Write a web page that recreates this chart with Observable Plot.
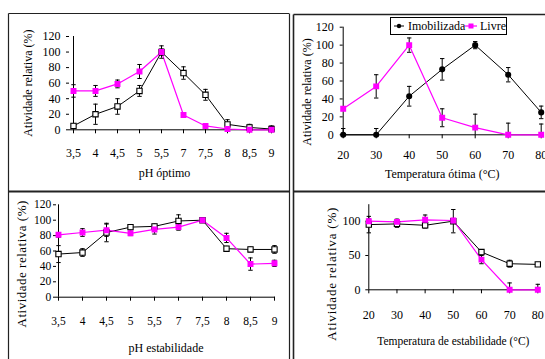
<!DOCTYPE html>
<html><head><meta charset="utf-8">
<script src="https://cdn.jsdelivr.net/npm/d3@7"></script>
<script src="https://cdn.jsdelivr.net/npm/@observablehq/plot@0.6"></script>
<style>
body{margin:0;background:#fff;}
#wrap{position:relative;width:545px;height:359px;overflow:hidden;font-family:"Liberation Serif",serif;background:#fff;}
#wrap > svg{position:absolute;left:0;top:0;}
#wrap svg text{font-family:"Liberation Serif",serif;}
#legend{position:absolute;left:390px;top:16.5px;width:115px;height:16px;border:1px solid #000;background:#fff;font:12px "Liberation Serif",serif;}
</style></head><body><div id="wrap"></div>
<script>
// ---- data ----
const phCats = ["3,5","4","4,5","5","5,5","7","7,5","8","8,5","9"];
const tempVals = [20,30,40,50,60,70,80];

const phOptImob     = [5, 20, 30, 50, 100, 73, 45, 7, 3, 1];
const phOptImobErr  = [3, 13, 10, 7, 8, 8, 7, 6, 4, 4];
const phOptLivre    = [50, 50, 59, 75, 100, 19, 5, 1, 0, 0];
const phOptLivreErr = [8, 7, 5, 9, 4, 2, 2, 1, 1, 1];

const tOptImob     = [0, 0, 43, 73, 100, 67, 25];
const tOptImobErr  = [7, 7, 11, 12, 4, 8, 7];
const tOptLivre    = [29, 54, 100, 19, 8, 0, 0];
const tOptLivreErr = [2, 13, 8, 10, 15, 13, 12];

const phEstImob     = [56, 58, 84, 91, 92, 99, 100, 63, 62, 62];
const phEstImobErr  = [11, 5, 12, 3, 3, 8, 3, 3, 3, 5];
const phEstLivre    = [81, 84, 87, 83, 88, 91, 100, 77, 43, 44];
const phEstLivreErr = [3, 5, 8, 3, 6, 4, 2, 6, 8, 4];

const tEstImob     = [95, 96, 94, 100, 55, 38, 37];
const tEstImobErr  = [12, 5, 4, 17, 3, 5, 2];
const tEstLivre    = [100, 99, 102, 101, 44, 0, 0];
const tEstLivreErr = [3, 4, 7, 3, 6, 10, 8];

const yTicks120 = [0,20,40,60,80,100,120];
const yTicks100 = [0,50,100];
const seriesNames = ["Imobilizada","Livre"];
const yTitle = "Atividade relativa (%)";

// ---- drawing ----
const W = 545, H = 359;
const MAG = "#ff00ff";
const capSymbol = {draw(ctx, size){const r = Math.sqrt(size/Math.PI); ctx.moveTo(-r,0); ctx.lineTo(r,0);}};
const wrap = document.getElementById("wrap");

function rowsFor(xs, vals, errs){
  return xs.map((x,i)=>({x, y: vals[i], lo: Math.max(0, vals[i]-errs[i]), hi: vals[i]+errs[i], showLo: vals[i]-errs[i] > 0}));
}

function panel(p){
  const xs = p.cats || p.xVals;
  const imob = rowsFor(xs, p.imob, p.imobErr);
  const livre = rowsFor(xs, p.livre, p.livreErr);
  const errMarks = (rows, color) => [
    Plot.ruleX(rows, {x:"x", y1:"lo", y2:"hi", stroke: color, strokeWidth: 1}),
    Plot.dot(rows, {x:"x", y:"hi", symbol: capSymbol, r: 2.2, stroke: color, strokeWidth: 1}),
    Plot.dot(rows.filter(d=>d.showLo), {x:"x", y:"lo", symbol: capSymbol, r: 2.2, stroke: color, strokeWidth: 1})
  ];
  const xScale = p.cats
    ? {type:"point", domain: p.cats, padding: 0, tickSize: 4, tickPadding: p.xTickPad, label: null}
    : {type:"linear", domain: p.xDomain, ticks: p.xVals, tickSize: 4, tickPadding: p.xTickPad, label: null};
  const svg = Plot.plot({
    width: W, height: H,
    marginLeft: p.ml, marginRight: p.mr, marginTop: p.mt, marginBottom: p.mb,
    x: xScale,
    y: {domain: p.yDomain, ticks: p.yTicks, tickSize: 3, tickPadding: p.yTickPad, label: null},
    style: `background:transparent;font-family:"Liberation Serif",serif;font-size:${p.fontSize}px;color:#000;overflow:visible;`,
    marks: [
      Plot.ruleY([p.yDomain[0]], {stroke: "#000"}),
      Plot.ruleX([xs[0]], {y1: p.yDomain[0], y2: p.yDomain[1], stroke: "#000"}),
      Plot.line(imob, {x:"x", y:"y", stroke:"#000", strokeWidth: 1}),
      Plot.line(livre, {x:"x", y:"y", stroke: MAG, strokeWidth: 1.2}),
      ...errMarks(imob, "#000"),
      ...errMarks(livre, "#000"),
      p.imobCircle
        ? Plot.dot(imob, {x:"x", y:"y", r: 2.3, fill:"#000", stroke:"#000"})
        : Plot.dot(imob, {x:"x", y:"y", symbol:"square", r: 3, fill:"#fff", stroke:"#000", strokeWidth: 1.1}),
      Plot.dot(livre, {x:"x", y:"y", symbol:"square", r: 2.5, fill: MAG, stroke: MAG}),
      Plot.text([p.xTitle], {text: d=>d, frameAnchor: "bottom", dx: p.xTitleDx, dy: p.xTitleDy, lineAnchor: "middle", fontSize: p.xTitleSize}),
      Plot.text([yTitle], {text: d=>d, frameAnchor: "left", rotate: -90, dx: p.yTitleDx, dy: p.yTitleDy, lineAnchor: "middle", textAnchor: "middle", fontSize: p.yTitleSize})
    ]
  });
  if (p.letterSpacing) {
    d3.select(svg).selectAll("text").filter(function(){ return this.textContent === yTitle; }).attr("letter-spacing", p.letterSpacing);
  }
  wrap.appendChild(svg);
}

// top-left: pH óptimo
panel({cats: phCats, imob: phOptImob, imobErr: phOptImobErr, livre: phOptLivre, livreErr: phOptLivreErr,
  ml: 69, mr: W-275, mt: 36, mb: H-129.3, yDomain: [0,120], yTicks: yTicks120, fontSize: 12,
  xTickPad: 14.4, yTickPad: 6, xTitle: "pH óptimo", xTitleDx: -8, xTitleDy: 43.7, xTitleSize: 12,
  yTitleDx: -41, yTitleDy: 0, yTitleSize: 12});

// top-right: Temperatura ótima
panel({xVals: tempVals, xDomain: [20,80], imob: tOptImob, imobErr: tOptImobErr, livre: tOptLivre, livreErr: tOptLivreErr,
  ml: 342.7, mr: W-540.7, mt: 26.7, mb: H-134.3, yDomain: [0,120], yTicks: yTicks120, fontSize: 12, imobCircle: true,
  xTickPad: 11.5, yTickPad: 6.4, xTitle: "Temperatura ótima (°C)", xTitleDx: 0, xTitleDy: 39, xTitleSize: 12,
  yTitleDx: -36, yTitleDy: 11, yTitleSize: 12});

// bottom-left: pH estabilidade
panel({cats: phCats, imob: phEstImob, imobErr: phEstImobErr, livre: phEstLivre, livreErr: phEstLivreErr,
  ml: 56, mr: W-275, mt: 204.3, mb: H-296.7, yDomain: [0,120], yTicks: yTicks120, fontSize: 11.5,
  xTickPad: 15.3, yTickPad: 2.3, xTitle: "pH estabilidade", xTitleDx: 0, xTitleDy: 51, xTitleSize: 12,
  yTitleDx: -34.3, yTitleDy: 12.8, yTitleSize: 13, letterSpacing: "0.5px"});

// bottom-right: Temperatura de estabilidade
panel({xVals: tempVals, xDomain: [20,80], imob: tEstImob, imobErr: tEstImobErr, livre: tEstLivre, livreErr: tEstLivreErr,
  ml: 368.3, mr: W-537.3, mt: 204.2, mb: H-289.3, yDomain: [0,124], yTicks: yTicks100, fontSize: 12,
  xTickPad: 16.8, yTickPad: 5.3, xTitle: "Temperatura de estabilidade (°C)", xTitleDx: 0, xTitleDy: 51.4, xTitleSize: 11.5,
  yTitleDx: -36.6, yTitleDy: 26.5, yTitleSize: 13, letterSpacing: "0.8px"});

// panel borders
const ns = "http://www.w3.org/2000/svg";
const frame = document.createElementNS(ns, "svg");
frame.setAttribute("width", W); frame.setAttribute("height", H);
[[8.5,13.5,289,13.5,1.2],[293.5,14.5,545,14.5,1.6],[8.5,13.5,8.5,359,1.2],[289.5,13.5,289.5,359,1.2],[293.5,14.5,293.5,359,1.6],
 [8.5,191.5,289.5,191.5,2],[293.5,191.5,545,191.5,2.2]].forEach(([x1,y1,x2,y2,w])=>{
  const l = document.createElementNS(ns, "line");
  l.setAttribute("x1",x1); l.setAttribute("y1",y1); l.setAttribute("x2",x2); l.setAttribute("y2",y2);
  l.setAttribute("stroke","#222"); l.setAttribute("stroke-width", w);
  frame.appendChild(l);
});
wrap.appendChild(frame);

// legend
const legend = document.createElement("div");
legend.id = "legend";
legend.innerHTML = `<svg width="115" height="16" style="position:absolute;left:0;top:0">
  <line x1="3" y1="8" x2="13" y2="8" stroke="#000"/><circle cx="8" cy="8" r="2.2" fill="#000"/>
  <text x="17" y="12" font-size="12" font-family="Liberation Serif">${seriesNames[0]}</text>
  <line x1="74" y1="8" x2="86" y2="8" stroke="${MAG}" stroke-width="1.2"/><rect x="77.5" y="5.5" width="5" height="5" fill="${MAG}"/>
  <text x="89" y="12" font-size="12" font-family="Liberation Serif">${seriesNames[1]}</text></svg>`;
wrap.appendChild(legend);
</script></body></html>
